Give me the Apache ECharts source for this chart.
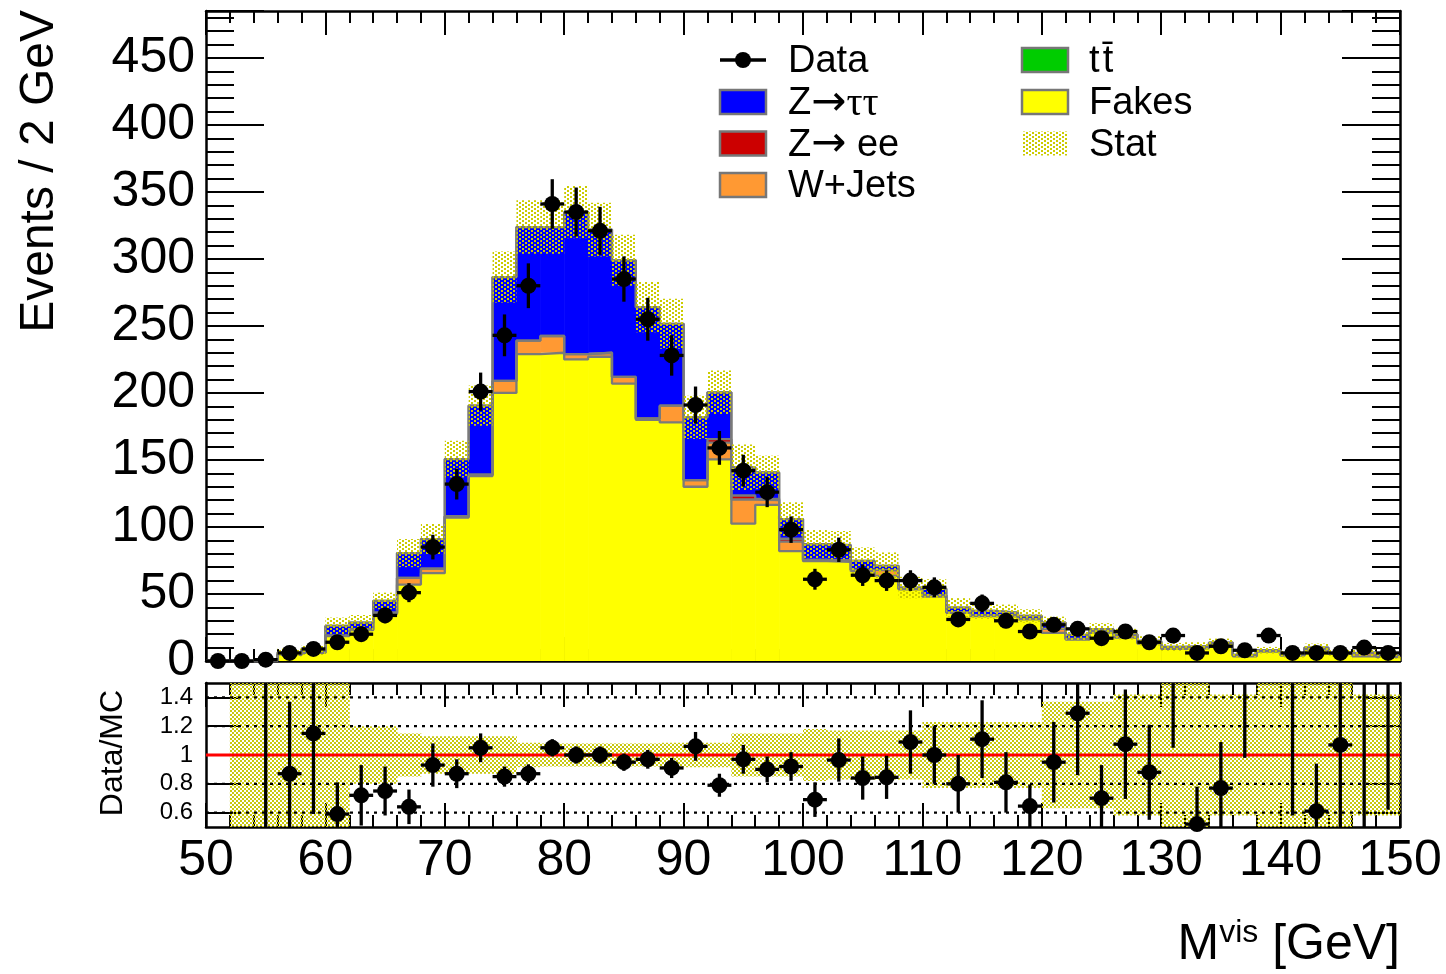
<!DOCTYPE html>
<html>
<head>
<meta charset="utf-8">
<title>Mvis</title>
<script src="https://cdn.jsdelivr.net/npm/echarts@6.0.0/dist/echarts.min.js"></script>
<style>
html,body{margin:0;padding:0;background:#ffffff;}
#chart{width:1446px;height:974px;}
</style>
</head>
<body>
<div id="chart"></div>
<script>
// ---------------- data ----------------
const binCenters = [51,53,55,57,59,61,63,65,67,69,71,73,75,77,79,81,83,85,87,89,91,93,95,97,99,101,103,105,107,109,111,113,115,117,119,121,123,125,127,129,131,133,135,137,139,141,143,145,147,149];
const binWidth = 2;

const fakes = [0,0,0.3,4.5,6,18.5,23,35,57,65.5,107,138,200,229,230,225,227,207,180,178,130,150.5,102.5,116.5,82,74.5,74,67,63.5,53.5,48,36,33.5,33.5,31,21,16,21,17.5,13,9,9.5,11,3.5,7,4,8.5,5.3,3.5,3];
const wjets = [0,0,0,0.3,0.3,0.5,0.5,1,5,3.5,1,1,9,10,12.5,4,3,5,1,12.5,5,12.5,18,3.5,7,1,1,1,4.3,0.5,1,0.5,0.5,0.5,0.5,3,0.5,1,2,1,1,0.5,1.5,0.5,0.5,0.5,0.5,0.5,2.5,0.3];
const zee   = [0,0,0,0,0,0,0,0,0,0,0,0,0,0,0,0,0,0,0,0,0,2.5,3,1,2.2,0,0,0,0,0,0,0,0,0,0,0,0,0,0,0,0,0,0,0,0,0,0,0,0,0];
const ztt   = [0,0,0.2,1.5,1.7,7.2,5.1,8.8,18.5,22,42.7,51.6,77.5,84.8,81.3,106,91.9,87,83,61.1,46.8,35,21,19.7,14.7,11.7,11.5,6.7,3.2,0.8,5,3.4,3.4,2.1,2.1,4.6,3,1.7,0.5,1,0.5,1,1.2,0.5,0.5,0.5,1,0,0.2,0.2];
const ttbar = [0,0,0,0,0,0,0,0,0,0,0,0,0,0,0,0,0,0,0,0,0,0,0,0,0,0,0,0,0,0,0,0,0,0,0,0,0,0,0,0,0,0,0,0,0,0,0,0,0,0];
const statErr = [0,0,0.5,3,3.5,6.2,5.7,6.2,10.5,11.2,13.7,15,19,20,20,19.5,20,19,18.7,18.7,16.2,16.2,17,12.5,12.5,10.5,10.5,10,10,8,7,7,6,6,5,4.5,4,4.5,4,3.5,3,3,3,2,2.5,2.5,3,2.5,2.5,2];

const dataCounts = [0,0,1,6,9,14,20,34,51,85,132,201,243,280,341,335,321,285,255,228,191,159,142,126,98,61,83,64,60,60,55,31,43,30,22,27,24,17,22,14,19,6,11,8,19,6,6,6,10,6];
const dataErr = [0,0,1,2.4,3,3.7,4.5,5.8,7.1,9.2,11.5,14.2,15.6,16.7,18.5,18.3,17.9,16.9,16,15.1,13.8,12.6,11.9,11.2,9.9,7.8,9.1,8,7.7,7.7,7.4,5.6,6.6,5.5,4.7,5.2,4.9,4.1,4.7,3.7,4.4,2.4,3.3,2.8,4.4,2.4,2.4,2.4,3.2,2.4];

const ratio = [null,null,2.5,0.87,1.15,0.59,0.72,0.75,0.64,0.93,0.87,1.05,0.85,0.87,1.05,1.0,1.0,0.95,0.97,0.91,1.06,0.79,0.97,0.9,0.92,0.69,0.965,0.84,0.845,1.09,1.0,0.8,1.11,0.81,0.645,0.95,1.29,0.7,1.075,0.88,1.78,0.52,0.77,1.74,2.4,2.3,0.61,1.07,1.56,1.72];
const ratioErr = [0,0,2.5,0.5,0.56,0.22,0.21,0.17,0.12,0.15,0.1,0.1,0.07,0.065,0.06,0.06,0.06,0.06,0.065,0.07,0.1,0.08,0.1,0.09,0.1,0.12,0.15,0.15,0.15,0.22,0.2,0.2,0.27,0.21,0.15,0.28,0.43,0.23,0.38,0.33,0.73,0.26,0.32,0.76,0.55,1.72,0.33,0.8,1.1,1.1];
const ratioBand = [0,0.6,0.6,0.6,0.6,0.6,0.2,0.2,0.15,0.13,0.13,0.13,0.13,0.085,0.08,0.08,0.08,0.08,0.08,0.085,0.085,0.085,0.15,0.15,0.15,0.18,0.17,0.17,0.17,0.17,0.23,0.23,0.23,0.23,0.23,0.37,0.37,0.37,0.42,0.42,0.6,0.6,0.42,0.42,0.6,0.6,0.6,0.6,0.42,0.42];

const xTickLabels = [50,60,70,80,90,100,110,120,130,140,150];
const yTickLabels = [0,50,100,150,200,250,300,350,400,450];
const ratioTickLabels = [0.6,0.8,1,1.2,1.4];
const ratioGridLines = [0.6,0.8,1.2,1.4];

const layers = [fakes, wjets, zee, ztt, ttbar];
const layerColors = ['#ffff00','#ff9933','#cc0000','#0000ff','#00cc00'];

// ---------------- helpers ----------------
const FONT = '"Liberation Sans", Arial, Helvetica, sans-serif';
function makeDots(w, h, pts, color, size) {
  const c = document.createElement('canvas');
  c.width = w; c.height = h;
  const g = c.getContext('2d');
  g.fillStyle = color;
  pts.forEach(p => g.fillRect(p[0], p[1], size, size));
  return c;
}
const statPat = {image: makeDots(6, 4, [[0,0],[3,2]], '#cccc00', 2), repeat: 'repeat'};
const ratioPat = {image: makeDots(4, 4, [[0,0],[2,2]], '#c8c810', 2), repeat: 'repeat'};

// cumulative stack
const cum = [];
let running = binCenters.map(() => 0);
layers.forEach(arr => {
  const lo = running.slice();
  running = running.map((v, i) => v + arr[i]);
  cum.push({lo: lo, hi: running.slice()});
});
const total = running;

const series = [];
// stack fills
layers.forEach((arr, k) => {
  series.push({
    type: 'custom', xAxisIndex: 0, yAxisIndex: 0, z: 2, silent: true,
    data: binCenters.map((x, i) => [x, cum[k].lo[i], cum[k].hi[i]]),
    renderItem: (p, api) => {
      const x = api.value(0), lo = api.value(1), hi = api.value(2);
      if (!(hi > lo)) return null;
      const a = api.coord([x - binWidth / 2, hi]);
      const b = api.coord([x + binWidth / 2, lo]);
      return {type: 'rect', shape: {x: a[0], y: a[1], width: b[0] - a[0] + 0.6, height: b[1] - a[1]},
              style: {fill: layerColors[k]}};
    }
  });
});
// stack outlines (step lines of each cumulative histogram)
layers.forEach((arr, k) => {
  const pts = binCenters.map((x, i) => [x - binWidth / 2, cum[k].hi[i]]);
  const n = binCenters.length - 1;
  pts.push([binCenters[n] + binWidth / 2, cum[k].hi[n]]);
  series.push({
    type: 'line', xAxisIndex: 0, yAxisIndex: 0, z: 3, silent: true, step: 'end',
    symbol: 'none', data: pts, lineStyle: {color: '#7a7a7a', width: 2.3}
  });
});
// stat band
series.push({
  type: 'custom', xAxisIndex: 0, yAxisIndex: 0, z: 4, silent: true,
  data: binCenters.map((x, i) => [x, total[i] - statErr[i], total[i] + statErr[i]]),
  renderItem: (p, api) => {
    const x = api.value(0), lo = Math.max(api.value(1), 0), hi = api.value(2);
    if (!(hi > lo)) return null;
    const a = api.coord([x - binWidth / 2, hi]);
    const b = api.coord([x + binWidth / 2, lo]);
    return {type: 'rect', shape: {x: a[0], y: a[1], width: b[0] - a[0], height: b[1] - a[1]},
            style: {fill: statPat}};
  }
});
// data points
series.push({
  type: 'custom', xAxisIndex: 0, yAxisIndex: 0, z: 6, silent: true, clip: false,
  data: binCenters.map((x, i) => [x, dataCounts[i], dataErr[i]]),
  renderItem: (p, api) => {
    const x = api.value(0), y = api.value(1), e = api.value(2);
    const c = api.coord([x, y]);
    const t = api.coord([x, y + e]);
    const bt = api.coord([x, Math.max(y - e, 0)]);
    const l = api.coord([x - binWidth / 2, y]);
    const r = api.coord([x + binWidth / 2, y]);
    return {type: 'group', children: [
      {type: 'line', shape: {x1: c[0], y1: t[1], x2: c[0], y2: bt[1]}, style: {stroke: '#000', lineWidth: 3.3}},
      {type: 'line', shape: {x1: l[0], y1: c[1], x2: r[0], y2: c[1]}, style: {stroke: '#000', lineWidth: 3.3}},
      {type: 'circle', shape: {cx: c[0], cy: c[1], r: 8}, style: {fill: '#000'}}
    ]};
  }
});

// ratio band
series.push({
  type: 'custom', xAxisIndex: 2, yAxisIndex: 2, z: 2, silent: true,
  data: binCenters.map((x, i) => [x, ratioBand[i]]),
  renderItem: (p, api) => {
    const x = api.value(0), b = api.value(1);
    if (!(b > 0)) return null;
    const lo = Math.max(1 - b, 0.5), hi = Math.min(1 + b, 1.5);
    const a = api.coord([x - binWidth / 2, hi]);
    const c = api.coord([x + binWidth / 2, lo]);
    return {type: 'rect', shape: {x: a[0], y: a[1], width: c[0] - a[0] + 0.5, height: c[1] - a[1]},
            style: {fill: ratioPat}};
  }
});
// ratio dotted grid lines
series.push({
  type: 'custom', xAxisIndex: 2, yAxisIndex: 2, z: 3, silent: true,
  data: ratioGridLines.map(v => [50, v]),
  renderItem: (p, api) => {
    const v = api.value(1);
    const a = api.coord([50, v]), b = api.coord([150, v]);
    return {type: 'line', shape: {x1: a[0], y1: a[1], x2: b[0], y2: b[1]},
            style: {stroke: '#000', lineWidth: 2.2, lineDash: [3, 5]}};
  }
});
// ratio reference line at 1
series.push({
  type: 'custom', xAxisIndex: 2, yAxisIndex: 2, z: 4, silent: true,
  data: [[50, 1]],
  renderItem: (p, api) => {
    const v = api.value(1);
    const a = api.coord([50, v]), b = api.coord([150, v]);
    return {type: 'line', shape: {x1: a[0], y1: a[1], x2: b[0], y2: b[1]},
            style: {stroke: '#ff0000', lineWidth: 3}};
  }
});
// ratio points
series.push({
  type: 'custom', xAxisIndex: 2, yAxisIndex: 2, z: 6, silent: true, clip: false,
  data: binCenters.map((x, i) => [x, ratio[i], ratioErr[i]]).filter(d => d[1] !== null),
  renderItem: (p, api) => {
    const x = api.value(0), r = api.value(1), e = api.value(2);
    const lo = Math.max(r - e, 0.5), hi = Math.min(r + e, 1.5);
    const ch = [];
    if (hi > lo) {
      const a = api.coord([x, hi]), b = api.coord([x, lo]);
      ch.push({type: 'line', shape: {x1: a[0], y1: a[1], x2: b[0], y2: b[1]}, style: {stroke: '#000', lineWidth: 3.3}});
    }
    if (r >= 0.5 && r <= 1.5) {
      const c = api.coord([x, r]);
      const l = api.coord([x - binWidth / 2, r]), rr = api.coord([x + binWidth / 2, r]);
      ch.push({type: 'line', shape: {x1: l[0], y1: c[1], x2: rr[0], y2: c[1]}, style: {stroke: '#000', lineWidth: 3.3}});
      ch.push({type: 'circle', shape: {cx: c[0], cy: c[1], r: 8}, style: {fill: '#000'}});
    }
    return {type: 'group', children: ch};
  }
});

// ---------------- axes ----------------
const lineSt = {color: '#000', width: 2.5};
const tickSt = {color: '#000', width: 2};
function xAx(grid, pos, showLabels) {
  return {
    type: 'value', gridIndex: grid, position: pos, min: 50, max: 150, interval: 10,
    axisLine: {show: true, onZero: false, lineStyle: lineSt},
    axisTick: {show: true, inside: true, length: 24, lineStyle: tickSt},
    minorTick: {show: true, splitNumber: 5, length: 12, lineStyle: tickSt},
    splitLine: {show: false}, minorSplitLine: {show: false},
    axisLabel: showLabels ? {show: true, customValues: xTickLabels, fontSize: 50, color: '#000',
                             fontFamily: FONT, margin: 9} : {show: false}
  };
}
function yMain(pos, showLabels) {
  return {
    type: 'value', gridIndex: 0, position: pos, min: 0, max: 485, interval: 50,
    axisLine: {show: true, onZero: false, lineStyle: lineSt},
    axisTick: {show: true, inside: true, length: 58, lineStyle: tickSt},
    minorTick: {show: true, splitNumber: 5, length: 28, lineStyle: tickSt},
    splitLine: {show: false}, minorSplitLine: {show: false},
    axisLabel: showLabels ? {show: true, customValues: yTickLabels, fontSize: 50, color: '#000',
                             fontFamily: FONT, margin: 11, padding: [3, 0, 0, 0]} : {show: false}
  };
}
function yRatio(pos, showLabels) {
  return {
    type: 'value', gridIndex: 1, position: pos, min: 0.5, max: 1.5,
    axisLine: {show: true, onZero: false, lineStyle: lineSt},
    axisTick: {show: true, inside: true, length: 34, customValues: ratioTickLabels, lineStyle: tickSt},
    minorTick: {show: false},
    splitLine: {show: false},
    axisLabel: showLabels ? {show: true, customValues: ratioTickLabels, fontSize: 24, color: '#000',
                             fontFamily: FONT, margin: 13,
                             formatter: v => String(Math.round(v * 10) / 10)} : {show: false}
  };
}

// ---------------- legend & titles (graphic) ----------------
const g = [];
const legRows1 = [60, 102, 143.5, 185];
const legRows2 = [60, 102, 143.5];
const legRich = {
  n: {fontSize: 38, fontFamily: FONT, fill: '#000'},
  ar: {fontSize: 42, fontFamily: '"DejaVu Sans", sans-serif', fill: '#000'},
  t: {fontSize: 40, fontFamily: '"Liberation Serif", "DejaVu Serif", serif', fill: '#000'}
};
function legText(x, y, txt) {
  return {type: 'text', x: x, y: y + 2, z: 20,
          style: {text: txt, rich: legRich, fontSize: 38, fontFamily: FONT, fill: '#000', align: 'left', verticalAlign: 'middle'}};
}
function legBox(x, y, fill, stroke) {
  return {type: 'rect', z: 20, shape: {x: x, y: y - 12, width: 46, height: 24},
          style: {fill: fill, stroke: stroke ? '#777' : null, lineWidth: stroke ? 2.5 : 0}};
}
// column 1
g.push({type: 'line', z: 20, shape: {x1: 720, y1: legRows1[0], x2: 766, y2: legRows1[0]}, style: {stroke: '#000', lineWidth: 3.3}});
g.push({type: 'circle', z: 21, shape: {cx: 743, cy: legRows1[0], r: 8}, style: {fill: '#000'}});
g.push(legText(788, legRows1[0], '{n|Data}'));
g.push(legBox(720, legRows1[1], layerColors[3], true));
g.push(legText(788, legRows1[1], '{n|Z}{ar|\u2192}{t|\u03c4\u03c4}'));
g.push(legBox(720, legRows1[2], layerColors[2], true));
g.push(legText(788, legRows1[2], '{n|Z}{ar|\u2192}{n| ee}'));
g.push(legBox(720, legRows1[3], layerColors[1], true));
g.push(legText(788, legRows1[3], '{n|W+Jets}'));
// column 2
g.push(legBox(1022, legRows2[0], layerColors[4], true));
g.push(legText(1089, legRows2[0], '{n|t\u200At\u0304}'));
g.push(legBox(1022, legRows2[1], layerColors[0], true));
g.push(legText(1089, legRows2[1], '{n|Fakes}'));
g.push(legBox(1022, legRows2[2], statPat, false));
g.push(legText(1089, legRows2[2], '{n|Stat}'));

// axis titles
g.push({type: 'text', x: 40, y: 10, rotation: Math.PI / 2, z: 20,
        style: {text: 'Events / 2 GeV', fontSize: 48, fontFamily: FONT, fill: '#000', align: 'right', verticalAlign: 'middle'}});
g.push({type: 'text', x: 113, y: 753, rotation: Math.PI / 2, z: 20,
        style: {text: 'Data/MC', fontSize: 32, fontFamily: FONT, fill: '#000', align: 'center', verticalAlign: 'middle'}});
g.push({type: 'text', x: 1400, y: 945, z: 20,
        style: {text: '{a|M}{b|vis}{a| [GeV]}', align: 'right', verticalAlign: 'middle', fill: '#000',
                rich: {a: {fontSize: 50, fontFamily: FONT, fill: '#000', lineHeight: 56},
                       b: {fontSize: 32, fontFamily: FONT, fill: '#000', verticalAlign: 'top', lineHeight: 34}}}});

const chart = echarts.init(document.getElementById('chart'), null, {renderer: 'canvas', width: 1446, height: 974});
chart.setOption({
  animation: false,
  backgroundColor: '#ffffff',
  grid: [
    {left: 206, top: 11, width: 1194, height: 650, containLabel: false, outerBoundsMode: 'none'},
    {left: 206, top: 683, width: 1194, height: 144, containLabel: false, outerBoundsMode: 'none'}
  ],
  xAxis: [xAx(0, 'bottom', false), xAx(0, 'top', false), xAx(1, 'bottom', true), xAx(1, 'top', false)],
  yAxis: [yMain('left', true), yMain('right', false), yRatio('left', true), yRatio('right', false)],
  series: series,
  graphic: g
});
</script>
</body>
</html>
